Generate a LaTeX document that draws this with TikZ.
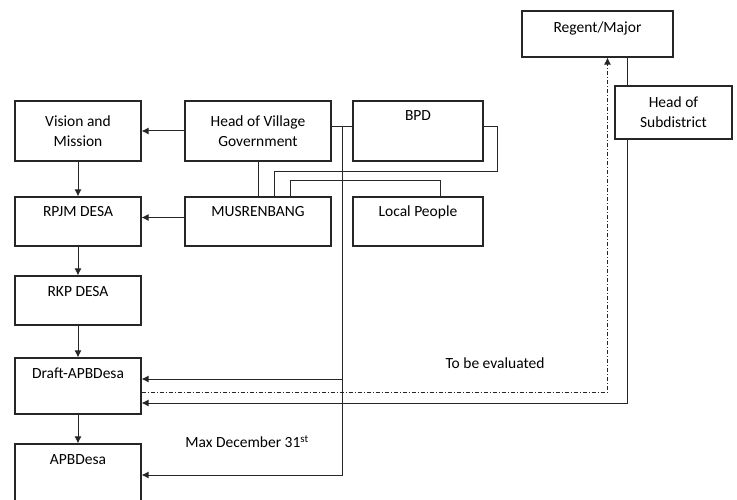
\documentclass[tikz,border=0pt]{standalone}
\usepackage{fontspec}
\setmainfont{Carlito}
\usetikzlibrary{arrows.meta}

\begin{document}
\begin{tikzpicture}[x=1pt,y=-1pt,font=\fontsize{15.5}{20}\selectfont,
  box/.style={draw=black!85, line width=1.1pt, inner ysep=6pt, align=center},
  toplbl/.style={text height=14pt, text depth=#1},
  link/.style={draw=black!85, line width=1pt},
  arr/.style={link, -{Latex[length=7pt,width=7pt]}}]
\useasboundingbox (0,0) rectangle (737,500);
% left column
\node[box, minimum width=126pt, minimum height=60pt] (vm) at (78,131) {Vision and\\Mission};
\node[box, minimum width=126pt, toplbl=23pt] (rpjm) at (78,221.5) {RPJM DESA};
\node[box, minimum width=126pt, toplbl=23pt] (rkp) at (78,300.5) {RKP DESA};
\node[box, minimum width=126pt, toplbl=30pt] (draft) at (78,386) {Draft-APBDesa};
\node[box, minimum width=126pt, toplbl=36pt] (apb) at (78,475) {APBDesa};
% middle
\node[box, minimum width=146pt, minimum height=60pt] (hvg) at (258,131) {Head of Village\\Government};
\node[box, minimum width=146pt, toplbl=23pt] (mus) at (258,221.5) {MUSRENBANG};
\node[box, minimum width=130pt, toplbl=34pt] (bpd) at (418,131) {BPD};
\node[box, minimum width=130pt, toplbl=23pt] (lp) at (418,221.5) {Local People};
% right
\node[box, minimum width=151pt, toplbl=18pt, text height=16pt] (reg) at (597.5,34) {Regent/Major};
\node[box, minimum width=117pt, minimum height=53pt] (hos) at (673.5,112.5) {Head of\\Subdistrict};
% texts
\node (eval) at (495,363) {To be evaluated};
\node (dl) at (247,442) {Max December 31\textsuperscript{st}};

\draw[arr] (vm) -- (rpjm);
\draw[arr] (rpjm) -- (rkp);
\draw[arr] (rkp) -- (draft);
\draw[arr] (draft) -- (apb);
\draw[arr] (hvg) -- (vm);
\draw[arr] ([yshift=4pt]mus.west) -- ([yshift=4pt]rpjm.east);
\draw[link] (hvg) -- (mus);
\draw[link] ([yshift=4pt]hvg.east) -- ([yshift=4pt]bpd.west);
\draw[link] ([yshift=4pt]bpd.east) -| ([xshift=14pt,yshift=-10pt]bpd.south east) -| ([xshift=16pt]mus.north);
\draw[link] ([xshift=22pt]lp.north) |- ([xshift=32pt,yshift=16pt]mus.north) -- ([xshift=32pt]mus.north);

% village line down to the budget
\coordinate (jn) at ([xshift=11pt,yshift=4pt]hvg.east);
\coordinate (d1) at ([yshift=7pt]draft.east);
\coordinate (d2) at ([yshift=-6pt]draft.east);
\coordinate (d3) at ([yshift=-17pt]draft.east);
\draw[arr] (jn) |- (apb.east);
\draw[arr] (jn |- d1) -- (d1);

% evaluation by the regent
\draw[arr, dash pattern=on 4pt off 2pt on 1pt off 2pt] (d2) -| ([xshift=10pt]reg.south);
\coordinate (rs) at ([xshift=30pt]reg.south);
\draw[link] (rs) -- (rs |- hos.north);
\draw[arr] (rs |- hos.south) |- (d3);
\end{tikzpicture}
\end{document}
